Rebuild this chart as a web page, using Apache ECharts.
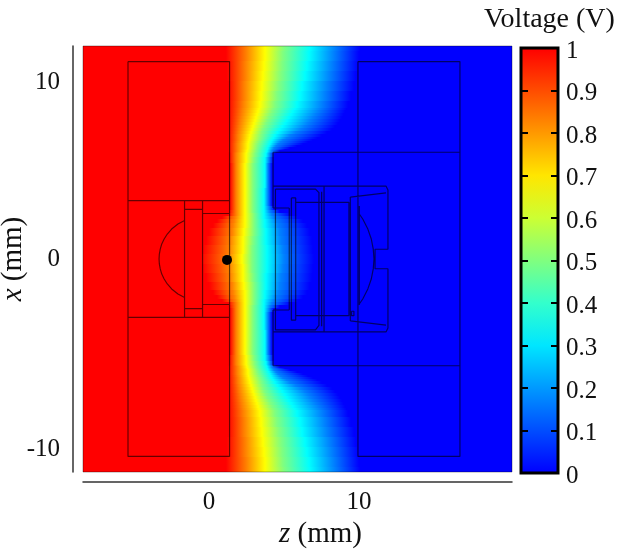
<!DOCTYPE html>
<html><head><meta charset="utf-8">
<style>html,body{margin:0;padding:0;background:#fff}#c{width:617px;height:550px}</style>
<script src="https://cdn.jsdelivr.net/npm/echarts@6/dist/echarts.min.js"></script>
</head><body><div id="c"></div>
<script>
// --- axis ranges and ticks (mm) ---
const zRange = [-8.4, 20.2];
const xRange = [-12.03, 12.03];
const zTicks = [0, 10];
// the reference prints its "-10" slightly below the true -10 position
const xTickPlaces = [-10.75, 0, 10];
const xTickTexts = ['-10', '0', '10'];
const barTicks = [0,0.1,0.2,0.3,0.4,0.5,0.6,0.7,0.8,0.9,1];

// --- colour scale knots ---
const scaleVolts = [0, 1/3, 2/3, 1];
const scaleColors = [[0,0,255],[0,255,255],[255,255,0],[255,0,0]];

// --- voltage field: for each |x| row, the z (mm) at which
//     the voltage falls to each level of isoLevels. The picture is mirror-symmetric in x.
const isoLevels = [1, 5/6, 2/3, 1/2, 1/3, 1/6, 0];
const rowX = [12.03,11.47,10.90,10.34,9.77,9.21,8.64,8.47,8.31,8.14,7.97,7.80,7.63,7.46,7.29,7.12,6.95,6.84,6.72,6.61,6.50,6.38,6.27,6.19,6.10,6.02,5.93,5.59,5.25,4.46,3.56,3.11,2.88,2.71,2.54,2.37,2.20,1.92,1.53,1.07,0.51,0];
const rowZ = [
[1.13,2.47,3.73,5.00,6.73,8.40,10.07],
[1.13,2.47,3.73,4.93,6.67,8.33,10.00],
[1.20,2.40,3.67,4.87,6.53,8.20,9.93],
[1.20,2.40,3.60,4.80,6.40,8.07,9.80],
[1.27,2.33,3.53,4.67,6.20,7.87,9.67],
[1.27,2.33,3.47,4.53,6.07,7.73,9.47],
[1.27,2.27,3.40,4.40,5.87,7.53,9.27],
[1.27,2.23,3.33,4.30,5.73,7.40,9.17],
[1.27,2.20,3.27,4.20,5.60,7.27,9.07],
[1.27,2.17,3.20,4.10,5.47,7.10,8.97],
[1.27,2.13,3.13,4.00,5.33,6.93,8.87],
[1.27,2.10,3.07,3.90,5.20,6.77,8.73],
[1.27,2.07,3.00,3.80,5.07,6.60,8.60],
[1.27,2.03,2.93,3.70,4.90,6.37,8.40],
[1.27,2.00,2.87,3.60,4.73,6.13,8.20],
[1.27,1.97,2.80,3.53,4.57,5.77,7.87],
[1.27,1.93,2.73,3.47,4.40,5.40,7.53],
[1.27,1.93,2.70,3.43,4.30,5.17,7.23],
[1.27,1.93,2.67,3.40,4.20,4.93,6.93],
[1.27,1.90,2.63,3.33,4.13,4.77,6.60],
[1.27,1.87,2.60,3.27,4.07,4.60,6.27],
[1.27,1.87,2.60,3.23,4.00,4.47,5.87],
[1.27,1.87,2.60,3.20,3.93,4.33,5.40],
[1.27,1.87,2.57,3.17,3.90,4.27,5.07],
[1.27,1.87,2.53,3.13,3.87,4.20,4.73],
[1.30,1.83,2.50,3.10,3.83,4.13,4.50],
[1.33,1.80,2.47,3.07,3.80,4.07,4.33],
[1.33,1.80,2.47,3.00,3.73,4.00,4.27],
[1.40,1.80,2.40,2.93,3.73,3.93,4.20],
[1.40,1.80,2.40,2.93,3.73,3.93,4.20],
[1.40,1.80,2.40,2.93,3.67,3.93,4.20],
[1.40,1.80,2.40,2.93,3.67,3.93,4.20],
[1.40,1.80,2.40,2.93,3.67,4.00,4.33],
[1.33,1.80,2.40,2.93,3.67,4.07,4.73],
[1.27,1.80,2.40,3.00,3.67,4.20,5.40],
[0.87,1.73,2.40,3.00,3.67,4.33,5.93],
[0.53,1.67,2.40,3.00,3.73,4.47,6.27],
[0.27,1.60,2.40,3.00,3.73,4.60,6.53],
[0.00,1.53,2.33,3.00,3.80,4.73,6.73],
[-0.20,1.40,2.27,2.93,3.80,4.80,6.87],
[-0.40,1.33,2.27,2.87,3.87,4.93,6.93],
[-0.53,1.27,2.20,2.87,3.87,5.00,7.00]
];

// --- device outlines, [z, x] in mm ---
const leftParts = [
[[-5.40,11.15],[1.37,11.15],[1.37,-11.15],[-5.40,-11.15],[-5.40,11.15]],
[[-5.40,3.30],[1.37,3.30]],
[[-5.40,-3.30],[1.37,-3.30]],
[[-1.63,3.30],[-1.63,-3.30]],
[[-0.43,3.30],[-0.43,-3.30]],
[[-1.63,2.80],[-0.43,2.80]],
[[-1.63,-2.80],[-0.43,-2.80]],
[[-0.43,2.57],[1.37,2.57]],
[[-0.43,-2.57],[1.37,-2.57]],
[[-1.63,2.17],[-2.07,1.98],[-2.49,1.69],[-2.78,1.41],[-2.99,1.13],[-3.15,0.85],[-3.25,0.56],[-3.31,0.28],[-3.33,0],[-3.31,-0.28],[-3.25,-0.56],[-3.15,-0.85],[-2.99,-1.13],[-2.78,-1.41],[-2.49,-1.69],[-2.07,-1.98],[-1.63,-2.17]]
];
const rightParts = [
[[9.93,11.15],[16.73,11.15],[16.73,-11.15],[9.93,-11.15],[9.93,11.15]],
[[4.27,6.03],[16.73,6.03]],
[[4.27,-6.03],[16.73,-6.03]],
[[4.27,6.03],[4.27,2.88]],
[[4.27,-6.03],[4.27,-2.88]],
[[4.27,2.88],[5.35,2.88]],
[[4.27,-2.88],[5.35,-2.88]],
[[4.27,4.12],[11.80,4.12],[11.93,3.90],[11.93,0.55],[11.07,0.55],[11.07,-0.55],[11.93,-0.55],[11.93,-3.90],[11.80,-4.12],[4.27,-4.12]],
[[4.43,3.95],[7.10,3.95],[7.33,3.75],[7.33,-3.75],[7.10,-4.00],[4.43,-4.00],[4.43,3.95]],
[[5.35,2.88],[5.35,-2.88]],
[[5.49,3.45],[5.78,3.45],[5.78,-3.45],[5.49,-3.45],[5.49,3.45]],
[[5.78,3.20],[9.33,3.20],[9.33,-3.20],[5.78,-3.20]],
[[7.67,4.12],[7.67,-4.12]],
[[7.51,3.80],[7.51,-3.80]],
[[9.42,3.50],[11.80,3.73]],
[[9.42,-3.50],[11.80,-3.73]],
[[9.42,3.50],[9.42,-3.50]],
[[10.02,3.00],[10.02,-2.60]],
[[9.93,4.12],[9.93,-4.12]],
[[4.43,2.88],[4.43,-2.88]],
[[10.02,2.54],[10.25,2.26],[10.59,1.69],[10.82,1.13],[10.95,0.56],[11.00,0],[10.95,-0.56],[10.82,-1.13],[10.59,-1.69],[10.25,-2.26],[10.02,-2.54]],
[[9.50,-2.95],[9.66,-2.95],[9.66,-3.20],[9.50,-3.20],[9.50,-2.95]]
];
const domainEdge = [[-8.4,12.03],[20.2,12.03],[20.2,-12.03],[-8.4,-12.03],[-8.4,12.03]];

// --- marked point ---
const probePoint = [[1.2, -0.05]];

const serif = '"Liberation Serif", serif';
const fs = 25;
const nameFs = 29;

function voltColor(v){
  let i = 0;
  while (i < scaleVolts.length-2 && v > scaleVolts[i+1]) i++;
  const t = (v-scaleVolts[i])/(scaleVolts[i+1]-scaleVolts[i]);
  const a = scaleColors[i], b = scaleColors[i+1];
  return 'rgb('+a.map((c,k)=>Math.round(c+(b[k]-c)*t)).join(',')+')';
}

// rows from top to bottom: read rows, then the same rows mirrored
const allRows = rowX.map((x,i)=>({x, z:rowZ[i]}));
for (let i = rowX.length-2; i >= 0; i--) allRows.push({x:-rowX[i], z:rowZ[i]});
const heatData = allRows.map((r,i)=>{
  const top = i===0 ? r.x : (r.x+allRows[i-1].x)/2;
  const bot = i===allRows.length-1 ? r.x : (r.x+allRows[i+1].x)/2;
  return [top, bot].concat(r.z);
});

const outlineData = [];
leftParts.concat(rightParts).forEach(p=>{ p.forEach(q=>outlineData.push(q)); outlineData.push(['-','-']); });
const edgeData = domainEdge;

const chart = echarts.init(document.getElementById('c'), null, {renderer:'canvas'});
chart.setOption({
  animation:false,
  backgroundColor:'#fff',
  title:{text:'Voltage (V)', left:484, top:6, padding:0, textStyle:{fontFamily:serif,fontSize:28,fontWeight:'normal',color:'#111'}},
  grid:[
    {left:83,top:46,width:429,height:426,show:false,outerBoundsMode:'none',containLabel:false},
    {left:521,top:48,width:37,height:425,show:false,outerBoundsMode:'none',containLabel:false}
  ],
  xAxis:[
    {type:'value',gridIndex:0,min:zRange[0],max:zRange[1],offset:10,position:'bottom',
     axisLine:{show:true,onZero:false,lineStyle:{color:'#333',width:1.5}},axisTick:{show:false},splitLine:{show:false},
     axisLabel:{customValues:zTicks,fontFamily:serif,fontSize:fs,color:'#111',margin:8},
     name:'{i|z} (mm)',nameLocation:'middle',nameGap:36,
     nameTextStyle:{fontFamily:serif,fontSize:nameFs,color:'#111',padding:[0,0,0,46],rich:{i:{fontFamily:serif,fontStyle:'italic',fontSize:nameFs,color:'#111'}}}},
    {type:'value',gridIndex:1,min:0,max:1,show:false}
  ],
  yAxis:[
    {type:'value',gridIndex:0,min:xRange[0],max:xRange[1],offset:10,position:'left',
     axisLine:{show:true,onZero:false,lineStyle:{color:'#333',width:1.5}},axisTick:{show:false},splitLine:{show:false},
     axisLabel:{customValues:xTickPlaces,fontFamily:serif,fontSize:fs,color:'#111',margin:13,
       formatter:v=>xTickTexts[xTickPlaces.indexOf(v)]},
     name:'{i|x} (mm)',nameLocation:'middle',nameGap:45,nameMoveOverlap:false,
     nameTextStyle:{fontFamily:serif,fontSize:nameFs,color:'#111',rich:{i:{fontFamily:serif,fontStyle:'italic',fontSize:nameFs,color:'#111'}}}},
    {type:'value',gridIndex:1,min:0,max:1,interval:0.1,position:'right',z:5,
     axisLine:{show:true,onZero:false,lineStyle:{color:'#000',width:2}},
     axisTick:{show:true,inside:true,length:7,lineStyle:{color:'#000',width:2}},splitLine:{show:false},
     axisLabel:{color:'#111',margin:8,
       rich:{a:{fontFamily:serif,fontSize:fs,color:'#111',padding:[6,0,0,0]}},
       formatter:v=>'{a|'+((v===0||v===1)?String(v):v.toFixed(1))+'}'}},
    {type:'value',gridIndex:1,min:0,max:1,interval:0.1,position:'left',z:5,
     axisLine:{show:true,onZero:false,lineStyle:{color:'#000',width:2}},
     axisTick:{show:true,inside:true,length:7,lineStyle:{color:'#000',width:2}},splitLine:{show:false},
     axisLabel:{show:false}}
  ],
  series:[
    {type:'custom',name:'Voltage',xAxisIndex:0,yAxisIndex:0,clip:true,silent:true,z:1,
     data:heatData,encode:{y:0},
     renderItem(params,api){
       const cs=params.coordSys;
       const y0=Math.round(api.coord([0,api.value(0)])[1]);
       const y1=Math.round(api.coord([0,api.value(1)])[1]);
       const stops=isoLevels.map((v,k)=>{
         const px=api.coord([api.value(2+k),0])[0];
         return {offset:Math.min(1,Math.max(0,(px-cs.x)/cs.width)),color:voltColor(v)};
       });
       return {type:'rect',shape:{x:cs.x,y:y0,width:cs.width,height:Math.max(1,y1-y0)},
         style:{fill:{type:'linear',x:cs.x,y:0,x2:cs.x+cs.width,y2:0,global:true,colorStops:stops}}};
     }},
    {type:'line',name:'Domain',xAxisIndex:0,yAxisIndex:0,data:edgeData,showSymbol:false,symbol:'none',silent:true,z:2,clip:false,
     lineStyle:{color:'rgba(0,0,0,0.35)',width:1}},
    {type:'line',name:'Device',xAxisIndex:0,yAxisIndex:0,data:outlineData,showSymbol:false,symbol:'none',silent:true,z:3,connectNulls:false,
     lineStyle:{color:'rgba(0,0,0,0.6)',width:1.2}},
    {type:'scatter',name:'Probe',xAxisIndex:0,yAxisIndex:0,data:probePoint,symbolSize:10,silent:true,z:4,itemStyle:{color:'#000',opacity:1}},
    {type:'custom',name:'Colour bar',xAxisIndex:1,yAxisIndex:1,silent:true,z:2,clip:false,
     data:[[0,1,0,1]],encode:{x:[0,1],y:[2,3]},
     renderItem(params,api){
       const a=api.coord([0,1]),b=api.coord([1,0]);
       const stops=barTicks.map(v=>({offset:1-v,color:voltColor(v)})).reverse();
       return {type:'rect',shape:{x:a[0],y:a[1],width:b[0]-a[0],height:b[1]-a[1]},
         style:{fill:{type:'linear',x:0,y:a[1],x2:0,y2:b[1],global:true,colorStops:stops},stroke:'#000',lineWidth:3}};
     }}
  ]
});
</script></body></html>
